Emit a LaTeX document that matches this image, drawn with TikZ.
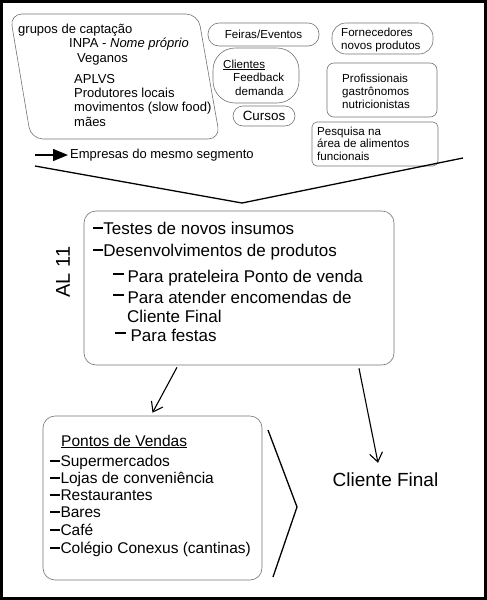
\documentclass[tikz,border=0pt]{standalone}
\usepackage{fontspec}
\setmainfont{Liberation Sans}
\usetikzlibrary{arrows.meta,positioning}
\newcommand{\setfs}[2]{\fontsize{#1pt}{#2pt}\selectfont}
\newcommand{\itemdash}{\rule[0.29em]{0.6em}{0.12em}}
\newcommand{\subdash}{\rule[0.46em]{0.65em}{0.12em}\hspace{0.2em}}

\begin{document}
\begin{tikzpicture}[x=1pt, y=-1pt,
    box/.style={draw=black!55, line width=0.6pt, inner sep=0pt},
    lbl/.style={inner sep=0pt, anchor=west},
    s11/.style={lbl, font=\setfs{11.6}{13}},
    s13/.style={lbl, font=\setfs{13}{15}, text height=9.5pt, text depth=2.8pt},
    s15/.style={lbl, font=\setfs{15.5}{18}, text height=11.3pt, text depth=3.3pt},
    s17/.style={lbl, font=\setfs{17}{20}, text height=12.4pt, text depth=3.6pt},
    flow/.style={line width=1.1pt, -{Straight Barb[length=9pt, width=13pt]}},
    bold line/.style={line width=1.3pt}]
    \useasboundingbox (0,0) rectangle (487,600);
    \draw[line width=2.5pt] (1.5,1.5) rectangle (485.5,598.5);

    % grupos de captacao
    \draw[box, rounded corners=12pt] (100,14) -- (198,14) -- (220,139) -- (31,139) -- (10,14) -- cycle;
    \foreach \x/\y/\txt [count=\n] in {18/30/grupos de captação, 69/44/INPA - \textit{Nome próprio},
        77/59/Veganos, 74/80/APLVS, 74/94/Produtores locais,
        74/108/movimentos (slow food), 74/123/mães}
        \node[s13] (cap\n) at (\x,\y) {\txt};

    % parceiros
    \node[box, rounded corners=11pt, minimum width=111pt, minimum height=23pt, font=\setfs{11.6}{13}] (feiras) at (263.5,34.5) {Feiras/Eventos};
    \node[box, rounded corners=14pt, minimum width=101pt, minimum height=31pt] (forn) at (382.5,38.5) {};
    \node[s11, align=left] (fornTxt) at (341,40) {Fornecedores\\novos produtos};
    \node[box, rounded corners=22pt, minimum width=86pt, minimum height=55pt] (cli) at (256,75.5) {};
    \node[s11, align=left, font=\setfs{11.6}{13.5}] (cliTxt) at (223,77.5) {\underline{Clientes}\\\hspace*{10pt}Feedback\\\hspace*{12pt}demanda};
    \node[box, rounded corners=10pt, minimum width=62pt, minimum height=20pt, font=\setfs{13.4}{15}] (cursos) at (264,116) {Cursos};
    \node[box, rounded corners=7pt, minimum width=110pt, minimum height=54pt] (prof) at (382,90) {};
    \node[s11, align=left] (profTxt) at (342,91) {Profissionais\\gastrônomos\\nutricionistas};
    \node[box, rounded corners=5pt, minimum width=126pt, minimum height=44pt] (pesq) at (375,144) {};
    \node[s11, align=left, font=\setfs{11.6}{12.5}] (pesqTxt) at (317,143.5) {Pesquisa na\\área de alimentos\\funcionais};

    % empresas
    \coordinate (empStart) at (35,155);
    \node[s13] (emp) at (70,155) {Empresas do mesmo segmento};
    \draw[line width=1.4pt, -{Triangle[length=15pt, width=12pt]}, shorten >=2pt] (empStart) -- (emp.west);

    % funil
    \draw[bold line] (35,166) -- (242,203) -- (463,158);

    % AL 11
    \node[box, rounded corners=12pt, minimum width=310pt, minimum height=154pt] (al) at (239,288) {};
    \node[font=\setfs{20}{24}, rotate=90, inner sep=0pt] (alTit) at (63,272) {AL 11};
    \foreach \x/\y/\txt [count=\n] in {93/230/\itemdash Testes de novos insumos,
        93/252/\itemdash Desenvolvimentos de produtos,
        113/278/\subdash Para prateleira Ponto de venda,
        113/299/\subdash Para atender encomendas de,
        127/318/Cliente Final,
        115/337/\subdash\hspace{1pt}Para festas}
        \node[s17] (al\n) at (\x,\y) {\txt};

    % pontos de vendas
    \node[box, rounded corners=12pt, minimum width=219pt, minimum height=164pt] (pdv) at (152.5,498) {};
    \node[s15] (pdvTit) at (61,442) {\underline{Pontos de Vendas}};
    \foreach \y/\txt [count=\n] in {462/Supermercados, 479/Lojas de conveniência, 496/Restaurantes,
        513/Bares, 531/Café, 549/Colégio Conexus (cantinas)}
        \node[s15] (pdv\n) at (50,\y) {\itemdash\hspace{1pt}\txt};
    \draw[bold line] (268,430) -- (297,507) -- (273,577);

    % cliente final
    \node[font=\setfs{19}{23}, inner sep=0pt] (cf) at (385.5,480) {Cliente Final};

    \draw[flow] ([xshift=-62pt]al.south) ++(0,2) -- ([shift={(0,-3)}]pdv.north);
    \draw[flow] ([xshift=120pt]al.south) ++(0,3) -- ([shift={(-7.5,-10)}]cf.north);
\end{tikzpicture}
\end{document}
